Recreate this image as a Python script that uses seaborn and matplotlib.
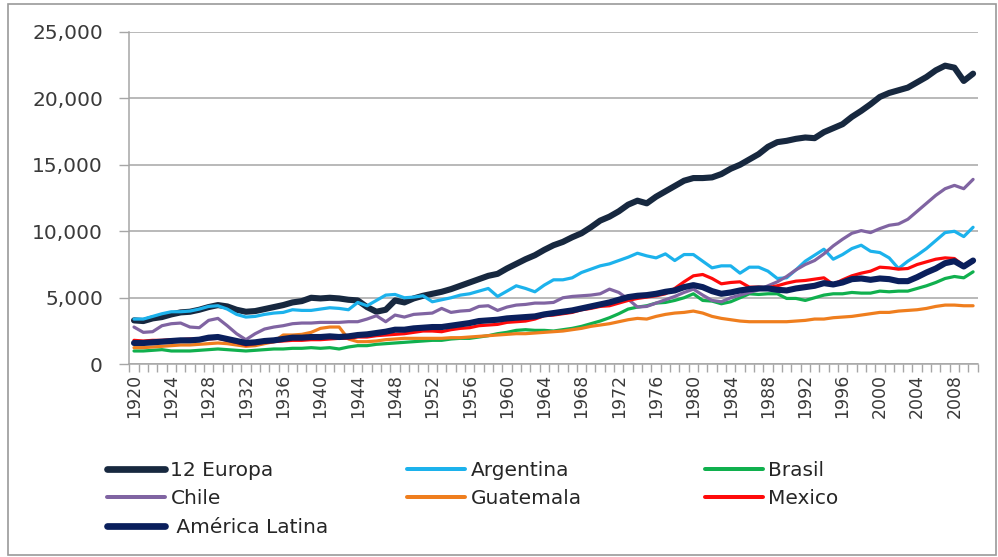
import numpy as np
import pandas as pd
import seaborn as sns
import matplotlib.pyplot as plt
from matplotlib.lines import Line2D
from matplotlib.patches import Rectangle
from matplotlib.ticker import FuncFormatter, MultipleLocator

# Data -----

years = list(range(1920, 2011))

europa = [3300, 3250, 3450, 3550, 3750, 3900, 3950, 4100, 4300, 4450,
          4350, 4100, 3950, 4000, 4150, 4300, 4450, 4650, 4750, 5000,
          4950, 5000, 4950, 4850, 4800, 4300, 3950, 4100, 4800, 4650,
          4950, 5150, 5300, 5450, 5650, 5900, 6150, 6400, 6650, 6800,
          7200, 7550, 7900, 8200, 8600, 8950, 9200, 9550, 9850, 10300,
          10800, 11100, 11500, 12000, 12300, 12100, 12600, 13000, 13400, 13800,
          14000, 14000, 14050, 14300, 14700, 15000, 15400, 15800, 16350, 16700,
          16800, 16950, 17050, 17000, 17450, 17750, 18050, 18600, 19050, 19550,
          20100, 20400, 20600, 20800, 21200, 21600, 22100, 22450, 22300, 21300,
          21850]

argentina = [3400, 3400, 3600, 3800, 3950, 3950, 4000, 4150, 4350, 4400,
             4150, 3750, 3550, 3600, 3750, 3850, 3900, 4100, 4050, 4050,
             4150, 4250, 4200, 4100, 4650, 4400, 4800, 5200, 5250, 5000,
             5050, 5150, 4700, 4850, 5000, 5200, 5300, 5500, 5700, 5100,
             5500, 5900, 5700, 5450, 5950, 6350, 6350, 6500, 6900, 7150,
             7400, 7550, 7800, 8050, 8350, 8150, 8000, 8300, 7800, 8250,
             8250, 7750, 7250, 7400, 7400, 6850, 7300, 7300, 7000, 6450,
             6500, 7100, 7750, 8200, 8650, 7900, 8250, 8700, 8950, 8500,
             8400, 8000, 7200, 7750, 8200, 8700, 9300, 9900, 10000, 9600,
             10300]

brasil = [1000, 1000, 1050, 1100, 1000, 1000, 1000, 1050, 1100, 1150,
          1100, 1050, 1000, 1050, 1100, 1150, 1150, 1200, 1200, 1250,
          1200, 1250, 1150, 1300, 1400, 1400, 1500, 1550, 1600, 1650,
          1700, 1750, 1800, 1800, 1900, 1950, 1950, 2050, 2150, 2300,
          2400, 2550, 2600, 2550, 2550, 2500, 2600, 2700, 2850, 3050,
          3250, 3500, 3800, 4150, 4300, 4400, 4600, 4650, 4800, 5000,
          5300, 4800, 4750, 4550, 4700, 5000, 5300, 5250, 5300, 5300,
          4950, 4950, 4800, 5000, 5200, 5300, 5300, 5400, 5350, 5350,
          5500, 5450, 5500, 5500, 5700, 5900, 6150, 6450, 6600, 6500,
          6950]

chile = [2800, 2400, 2450, 2900, 3050, 3100, 2800, 2750, 3300, 3450,
         2900, 2300, 1850, 2300, 2650, 2800, 2900, 3050, 3100, 3100,
         3150, 3150, 3150, 3200, 3200, 3400, 3650, 3200, 3700, 3550,
         3750, 3800, 3850, 4200, 3900, 4000, 4050, 4350, 4400, 4050,
         4300, 4450, 4500, 4600, 4600, 4650, 5000, 5100, 5150, 5200,
         5300, 5650, 5400, 4900, 4300, 4350, 4600, 4850, 5100, 5400,
         5650, 5200, 4800, 4700, 5000, 5200, 5400, 5600, 5900, 6200,
         6600, 7100, 7500, 7800, 8300, 8900, 9400, 9850, 10050, 9900,
         10200, 10450, 10550, 10900, 11500, 12100, 12700, 13200, 13450, 13200,
         13900]

guatemala = [1250, 1250, 1300, 1350, 1400, 1450, 1450, 1500, 1550, 1600,
             1550, 1450, 1350, 1400, 1550, 1700, 2200, 2200, 2250, 2400,
             2700, 2800, 2800, 1900, 1700, 1700, 1750, 1850, 1900, 1950,
             1950, 1950, 1950, 1950, 2000, 2000, 2050, 2100, 2150, 2200,
             2250, 2300, 2300, 2350, 2400, 2450, 2500, 2600, 2700, 2850,
             2950, 3050, 3200, 3350, 3450, 3400, 3600, 3750, 3850, 3900,
             4000, 3850, 3600, 3450, 3350, 3250, 3200, 3200, 3200, 3200,
             3200, 3250, 3300, 3400, 3400, 3500, 3550, 3600, 3700, 3800,
             3900, 3900, 4000, 4050, 4100, 4200, 4350, 4450, 4450, 4400,
             4400]

mexico = [1800, 1750, 1800, 1800, 1850, 1850, 1900, 1850, 1900, 1950,
          1800, 1650, 1450, 1550, 1650, 1700, 1750, 1800, 1800, 1850,
          1850, 1900, 1950, 1950, 2050, 2050, 2150, 2200, 2250, 2300,
          2400, 2500, 2500, 2450, 2600, 2700, 2750, 2900, 2950, 3000,
          3150, 3200, 3250, 3400, 3650, 3700, 3800, 3900, 4100, 4200,
          4350, 4400, 4600, 4800, 4950, 5050, 5150, 5300, 5700, 6200,
          6650, 6750, 6450, 6050, 6150, 6200, 5800, 5800, 5750, 5900,
          6100, 6250, 6300, 6400, 6500, 6000, 6350, 6650, 6850, 7000,
          7300, 7250, 7150, 7200, 7500, 7700, 7900, 8000, 7950, 7400,
          7700]

america_latina = [1600, 1600, 1650, 1700, 1750, 1800, 1800, 1850, 2000, 2050,
                  1900, 1750, 1600, 1650, 1750, 1800, 1900, 2000, 2000, 2050,
                  2050, 2100, 2050, 2100, 2200, 2250, 2350, 2450, 2600, 2600,
                  2700, 2750, 2800, 2800, 2900, 3000, 3100, 3250, 3300, 3350,
                  3450, 3500, 3550, 3600, 3750, 3850, 3950, 4050, 4200, 4350,
                  4500, 4650, 4850, 5050, 5150, 5200, 5300, 5450, 5550, 5800,
                  5950, 5800, 5500, 5300, 5400, 5550, 5650, 5700, 5700, 5600,
                  5550, 5700, 5800, 5900, 6100, 6000, 6150, 6400, 6450, 6350,
                  6450, 6400, 6250, 6250, 6550, 6900, 7200, 7600, 7750, 7350,
                  7800]

series_names = ["12 Europa", "Argentina", "Brasil", "Chile", "Guatemala", "Mexico", "América Latina"]
series_values = [europa, argentina, brasil, chile, guatemala, mexico, america_latina]
colors = ["#17283f", "#1cb2ec", "#10b04e", "#8064a2", "#ef7e1e", "#ff0a0a", "#0a1f5c"]
widths = [4.4, 2.3, 2.3, 2.3, 2.3, 2.3, 4.4]

df = pd.DataFrame({"Año": years})
for name, vals in zip(series_names, series_values):
    df[name] = vals
long_df = df.melt(id_vars="Año", var_name="Serie", value_name="PIB")

# Plot -----

sns.set_theme(style="white")
plt.rcParams["font.family"] = ["DejaVu Sans"]

fig = plt.figure(figsize=(9.98, 5.57), dpi=100)
ax = fig.add_axes([0.1296, 0.346, 0.8501, 0.597])

for name, col, lw in zip(series_names, colors, widths):
    sns.lineplot(data=long_df[long_df["Serie"] == name], x="Año", y="PIB",
                 color=col, linewidth=lw, ax=ax, legend=False,
                 solid_capstyle="round", solid_joinstyle="round")

ax.set_xlim(1919.5, 2010.5)
ax.set_ylim(0, 25000)
ax.set_xlabel("")
ax.set_ylabel("")

grid_col = "#a6a6a6"
ax.yaxis.set_major_locator(MultipleLocator(5000))
ax.yaxis.set_major_formatter(FuncFormatter(lambda v, p: "{:,.0f}".format(v)))
ax.grid(axis="y", color=grid_col, linewidth=1.1)
ax.grid(axis="x", visible=False)
ax.set_axisbelow(True)

ax.set_xticks(list(range(1920, 2009, 4)))
ax.set_xticklabels([str(y) for y in range(1920, 2009, 4)], rotation=90)
ax.set_xticks(np.arange(1919.5, 2011, 1.0), minor=True)
ax.tick_params(axis="x", which="major", length=0, pad=7, labelsize=12.5, labelcolor="#3a3a3a")
ax.tick_params(axis="x", which="minor", length=6, width=1, color=grid_col, direction="out", bottom=True)
ax.tick_params(axis="y", which="major", length=7, width=1, color=grid_col, direction="out", left=True,
               pad=12, labelsize=14.5, labelcolor="#3a3a3a")

for side in ["top", "right"]:
    ax.spines[side].set_visible(False)
for side in ["left", "bottom"]:
    ax.spines[side].set_color(grid_col)
    ax.spines[side].set_linewidth(1.1)

# Legend, laid out row by row as in the original, one legend per column
handles = {n: Line2D([], [], color=c, linewidth=lw * 1.1 if lw > 3 else lw * 1.25, solid_capstyle="round")
           for n, c, lw in zip(series_names, colors, widths)}
legend_cols = [["12 Europa", "Chile", "América Latina"],
               ["Argentina", "Guatemala"],
               ["Brasil", "Mexico"]]
legend_x = [107, 407, 705]
for names, x0 in zip(legend_cols, legend_x):
    labels = [" " + n if n == "América Latina" else n for n in names]
    leg = fig.legend([handles[n] for n in names], labels,
                     loc="upper left", bbox_to_anchor=(x0 / 998, 1 - 461 / 557),
                     frameon=False, handlelength=2.9, handletextpad=0.25,
                     labelspacing=0.47, borderpad=0, borderaxespad=0,
                     prop={"family": "DejaVu Sans", "size": 14.5})
    for t in leg.get_texts():
        t.set_color("#262626")

fig.add_artist(Rectangle((8 / 998, 2 / 557), 988 / 998, 551 / 557, transform=fig.transFigure,
                         fill=False, edgecolor="#9a9a9a", linewidth=1.2))

fig.savefig("out.png", dpi=100)
